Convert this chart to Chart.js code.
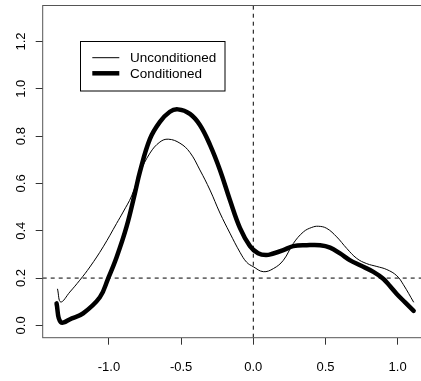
<!DOCTYPE html>
<html><head><meta charset="utf-8">
<script src="https://cdn.jsdelivr.net/npm/chart.js@4"></script>
<style>html,body{margin:0;padding:0;overflow:hidden;background:#fff;width:421px;height:381px}canvas{display:block}</style>
</head><body><canvas id="c" width="430" height="381"></canvas>
<script>
const seriesNames = ['Unconditioned', 'Conditioned'];
const uncondX = [-1.356,-1.334,-1.271,-1.202,-1.132,-1.040,-0.947,-0.902,-0.843,-0.786,-0.716,-0.647,-0.589,-0.508,-0.439,-0.370,-0.300,-0.231,-0.162,-0.092,-0.046,0.000,0.069,0.139,0.208,0.277,0.347,0.405,0.451,0.509,0.578,0.648,0.717,0.786,0.856,0.925,0.994,1.040,1.110];
const uncondY = [0.153,0.099,0.141,0.191,0.247,0.332,0.431,0.479,0.547,0.644,0.728,0.775,0.787,0.770,0.731,0.657,0.572,0.475,0.390,0.309,0.267,0.248,0.227,0.240,0.275,0.346,0.395,0.414,0.419,0.410,0.374,0.325,0.283,0.261,0.249,0.236,0.210,0.172,0.099];
const condX = [-1.363,-1.334,-1.257,-1.179,-1.063,-1.008,-0.947,-0.878,-0.820,-0.786,-0.716,-0.647,-0.578,-0.522,-0.439,-0.370,-0.300,-0.231,-0.162,-0.092,-0.023,0.033,0.088,0.139,0.208,0.277,0.370,0.463,0.532,0.601,0.671,0.740,0.832,0.902,0.948,0.994,1.052,1.111];
const condY = [0.093,0.014,0.030,0.051,0.119,0.195,0.288,0.417,0.559,0.648,0.788,0.860,0.903,0.913,0.894,0.847,0.763,0.657,0.530,0.411,0.335,0.305,0.297,0.304,0.318,0.335,0.339,0.339,0.329,0.304,0.275,0.254,0.226,0.196,0.165,0.133,0.097,0.061];
const xTicks = [-1.0, -0.5, 0.0, 0.5, 1.0];
const yTicks = [0.0, 0.2, 0.4, 0.6, 0.8, 1.0, 1.2];
const refY = 0.2;
const refX = 0.0;
const xRange = [-1.459, 1.209];
const yRange = [-0.052, 1.352];

const FONT = "'Liberation Sans', Arial, Helvetica, sans-serif";
const toPts = (xs, ys) => xs.map((x, i) => ({x: x, y: ys[i]}));

const boxPlugin = {
  id: 'rbox',
  afterDraw(chart) {
    const {ctx, chartArea: a} = chart;
    ctx.save();
    ctx.strokeStyle = '#555';
    ctx.lineWidth = 1;
    ctx.strokeRect(a.left, a.top, a.right - a.left, a.bottom - a.top);
    const ds = chart.data.datasets.filter(d => d.inLegend);
    const bx = 80.5, by = 41.5, bw = 144.5, bh = 49.5;
    ctx.fillStyle = '#fff';
    ctx.fillRect(bx, by, bw, bh);
    ctx.strokeStyle = '#000';
    ctx.lineWidth = 1;
    ctx.strokeRect(bx, by, bw, bh);
    ctx.font = '13.5px ' + FONT;
    ctx.textBaseline = 'middle';
    ctx.textAlign = 'left';
    ds.forEach((d, i) => {
      const y = 57.7 + i * 15.6;
      ctx.beginPath();
      ctx.lineWidth = d.borderWidth;
      ctx.lineCap = 'butt';
      ctx.strokeStyle = d.borderColor;
      ctx.moveTo(92.3, y);
      ctx.lineTo(119.3, y);
      ctx.stroke();
      ctx.fillStyle = '#000';
      ctx.fillText(d.label, 130, y + 0.5);
    });
    ctx.restore();
  }
};

new Chart(document.getElementById('c'), {
  type: 'line',
  data: {
    datasets: [
      {label: 'h', data: [{x: xRange[0], y: refY}, {x: xRange[1], y: refY}], borderColor: '#000', borderWidth: 1, borderDash: [4, 4], pointRadius: 0, tension: 0},
      {label: 'v', data: [{x: refX, y: yRange[0]}, {x: refX, y: yRange[1]}], borderColor: '#000', borderWidth: 1, borderDash: [4, 4], pointRadius: 0, tension: 0},
      {label: seriesNames[0], inLegend: true, data: toPts(uncondX, uncondY), borderColor: '#000', borderWidth: 1, pointRadius: 0, tension: 0.4, borderCapStyle: 'round', borderJoinStyle: 'round'},
      {label: seriesNames[1], inLegend: true, data: toPts(condX, condY), borderColor: '#000', borderWidth: 4.5, pointRadius: 0, tension: 0.4, borderCapStyle: 'round', borderJoinStyle: 'round'}
    ]
  },
  options: {
    responsive: false,
    devicePixelRatio: 1,
    animation: false,
    events: [],
    layout: {padding: {left: 0, top: 5.5, right: 2.2, bottom: 0}},
    plugins: {legend: {display: false}, tooltip: {enabled: false}},
    scales: {
      x: {
        type: 'linear', position: 'bottom', min: xRange[0], max: xRange[1],
        afterBuildTicks: s => { s.ticks = xTicks.map(v => ({value: v})); },
        afterFit: s => { s.height = 43.3; s.paddingLeft = 0; s.paddingRight = 0; },
        ticks: {callback: v => v.toFixed(1), font: {family: FONT, size: 13}, color: '#000', padding: 15, maxRotation: 0, autoSkip: false},
        grid: {drawOnChartArea: false, drawTicks: true, tickLength: 7, color: '#333'},
        border: {display: false}
      },
      y: {
        type: 'linear', position: 'left', min: yRange[0], max: yRange[1],
        afterBuildTicks: s => { s.ticks = yTicks.map(v => ({value: v})); },
        afterFit: s => { s.width = 42.7; s.paddingTop = 0; s.paddingBottom = 0; },
        ticks: {callback: v => v.toFixed(1), font: {family: FONT, size: 13}, color: '#000', padding: 5, minRotation: 90, maxRotation: 90, crossAlign: 'center', autoSkip: false},
        grid: {drawOnChartArea: false, drawTicks: true, tickLength: 7, color: '#333'},
        border: {display: false}
      }
    }
  },
  plugins: [boxPlugin]
});
</script>
</body></html>
